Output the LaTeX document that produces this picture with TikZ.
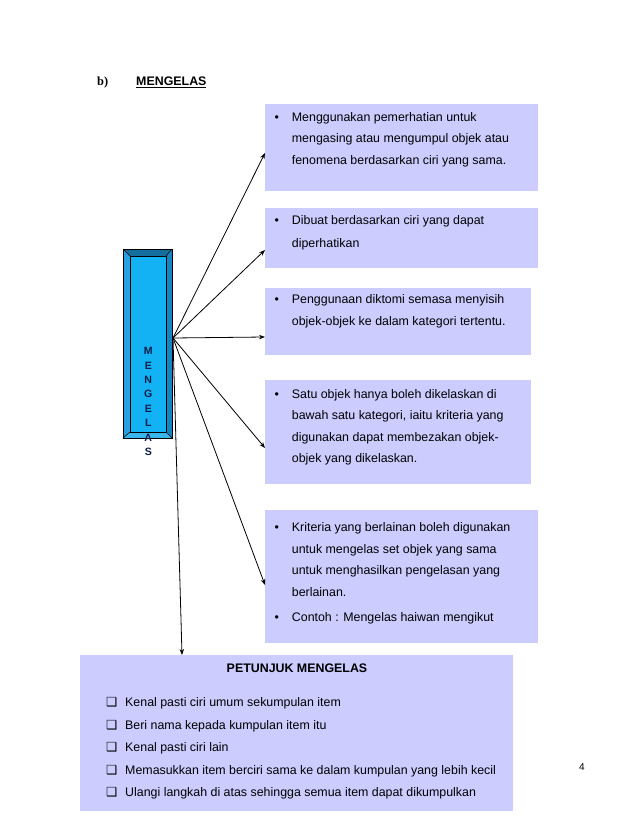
\documentclass[tikz,border=0pt]{standalone}
\usepackage{fontspec}
\setmainfont{Liberation Sans}
\newfontfamily\serifbold{Liberation Serif}
\newfontfamily\dejavu{DejaVu Sans}
\usetikzlibrary{arrows.meta}
\definecolor{lav}{RGB}{204,204,255}
\definecolor{bfront}{RGB}{18,178,245}
\definecolor{btop}{RGB}{20,110,158}
\definecolor{bleft}{RGB}{40,160,225}
\definecolor{bright}{RGB}{22,132,195}
\definecolor{bbottom}{RGB}{58,182,238}
\definecolor{navy}{RGB}{12,30,70}
\tikzset{
  rbox/.style={fill=lav, draw=none, anchor=north west, inner sep=0pt},
  txt/.style={inner sep=0pt, font=\fontsize{12.4}{14}\selectfont},
  ttl/.style={inner sep=0pt, font=\fontsize{12.4}{14}\selectfont\bfseries},
  letter/.style={inner sep=0pt, text=navy, font=\fontsize{10.6}{12}\selectfont\bfseries},
  arr/.style={line width=0.8pt, -{Stealth[length=6pt,width=4.5pt]}},
  chk/.style={inner sep=0pt, font=\dejavu\fontsize{12.5}{14}\selectfont},
}
\begin{document}
\begin{tikzpicture}[x=1pt,y=-1pt]
\useasboundingbox[fill=white] (0,0) rectangle (638,826);

% header
\node[inner sep=0pt, anchor=base west, font=\serifbold\bfseries\fontsize{12.4}{14}\selectfont] (hb) at (97,86) {b)};
\node[ttl, anchor=base west] (hm) at (136,86) {\underline{MENGELAS}};

% right boxes
\node[rbox, minimum width=273, minimum height=87] (b1) at (265,104) {};
\node[rbox, minimum width=273, minimum height=60] (b2) at (265,208) {};
\node[rbox, minimum width=266, minimum height=67] (b3) at (265,288) {};
\node[rbox, minimum width=266, minimum height=104] (b4) at (265,380) {};
\node[rbox, minimum width=273, minimum height=133] (b5) at (265,510) {};
% bottom box
\node[rbox, minimum width=433, minimum height=156] (bb) at (80,655) {};

% bevel box
\node[anchor=north west, inner sep=0pt, minimum width=49, minimum height=189] (m) at (123,249) {};
\fill[bfront] (130,256) rectangle (166,432);
\fill[btop] (123,249) -- (172,249) -- (166,256) -- (130,256) -- cycle;
\fill[bleft] (123,249) -- (130,256) -- (130,432) -- (123,438) -- cycle;
\fill[bright] (172,249) -- (172,438) -- (166,432) -- (166,256) -- cycle;
\fill[bbottom] (123,438) -- (130,432) -- (166,432) -- (172,438) -- cycle;
\draw[line width=0.8pt] (m.north west) rectangle (m.south east);
\draw[line width=0.8pt] (130,256) rectangle (166,432);
\draw[line width=0.6pt] (123,249) -- (130,256) (172,249) -- (166,256)
  (123,438) -- (130,432) (172,438) -- (166,432);
\foreach \ch [count=\i] in {M,E,N,G,E,L,A,S}
  \node[letter, anchor=center] (ml\i) at (148.3,{351+14.4*(\i-1)}) {\ch};

% arrows
\coordinate (src) at (173,338);
\draw[arr] (src) -- ([yshift=-49pt]b1.north west);
\draw[arr] (src) -- ([yshift=-42pt]b2.north west);
\draw[arr] (src) -- ([yshift=-49pt]b3.north west);
\draw[arr] (src) -- ([yshift=-68pt]b4.north west);
\draw[arr] (src) -- ([yshift=-75pt]b5.north west);
\draw[arr] (src) -- ([xshift=102pt]bb.north west);

% box texts
\node[txt, anchor=base] (bu1) at (276.7,121.5) {•};
\foreach \yy/\tx [count=\i] in {121.5/{Menggunakan pemerhatian untuk},
    143/{mengasing atau mengumpul objek atau},
    164.5/{fenomena berdasarkan ciri yang sama.}}
  \node[txt, anchor=base west] (ta\i) at (291.7,\yy) {\tx};

\node[txt, anchor=base] (bu2) at (276.7,225) {•};
\foreach \yy/\tx [count=\i] in {225/{Dibuat berdasarkan ciri yang dapat},
    247/{diperhatikan}}
  \node[txt, anchor=base west] (tb\i) at (291.7,\yy) {\tx};

\node[txt, anchor=base] (bu3) at (276.7,303.5) {•};
\foreach \yy/\tx [count=\i] in {303.5/{Penggunaan diktomi semasa menyisih},
    325/{objek-objek ke dalam kategori tertentu.}}
  \node[txt, anchor=base west] (tc\i) at (291.7,\yy) {\tx};

\node[txt, anchor=base] (bu4) at (276.7,398) {•};
\foreach \yy/\tx [count=\i] in {398/{Satu objek hanya boleh dikelaskan di},
    419.5/{bawah satu kategori, iaitu kriteria yang},
    441/{digunakan dapat membezakan objek-},
    462/{objek yang dikelaskan.}}
  \node[txt, anchor=base west] (td\i) at (291.7,\yy) {\tx};

\node[txt, anchor=base] (bu5) at (276.7,531.5) {•};
\node[txt, anchor=base] (bu6) at (276.7,621) {•};
\foreach \yy/\tx [count=\i] in {531.5/{Kriteria yang berlainan boleh digunakan},
    553/{untuk mengelas set objek yang sama},
    574.5/{untuk menghasilkan pengelasan yang},
    596/{berlainan.},
    621/{Contoh : Mengelas haiwan mengikut}}
  \node[txt, anchor=base west] (te\i) at (291.7,\yy) {\tx};

% bottom box texts
\node[ttl, anchor=base] (pt) at (297,672) {PETUNJUK MENGELAS};
\foreach \yy/\tx [count=\i] in {706.5/{Kenal pasti ciri umum sekumpulan item},
    729/{Beri nama kepada kumpulan item itu},
    751.5/{Kenal pasti ciri lain},
    774/{Memasukkan item berciri sama ke dalam kumpulan yang lebih kecil},
    796.5/{Ulangi langkah di atas sehingga semua item dapat dikumpulkan}}
{
  \node[chk, anchor=base west] (ck\i) at (106,\yy) {❑};
  \node[txt, anchor=base west] (tf\i) at (125,\yy) {\tx};
}

% page number
\node[inner sep=0pt, anchor=base, font=\fontsize{10}{12}\selectfont] (pn) at (582,770) {4};
\end{tikzpicture}
\end{document}
